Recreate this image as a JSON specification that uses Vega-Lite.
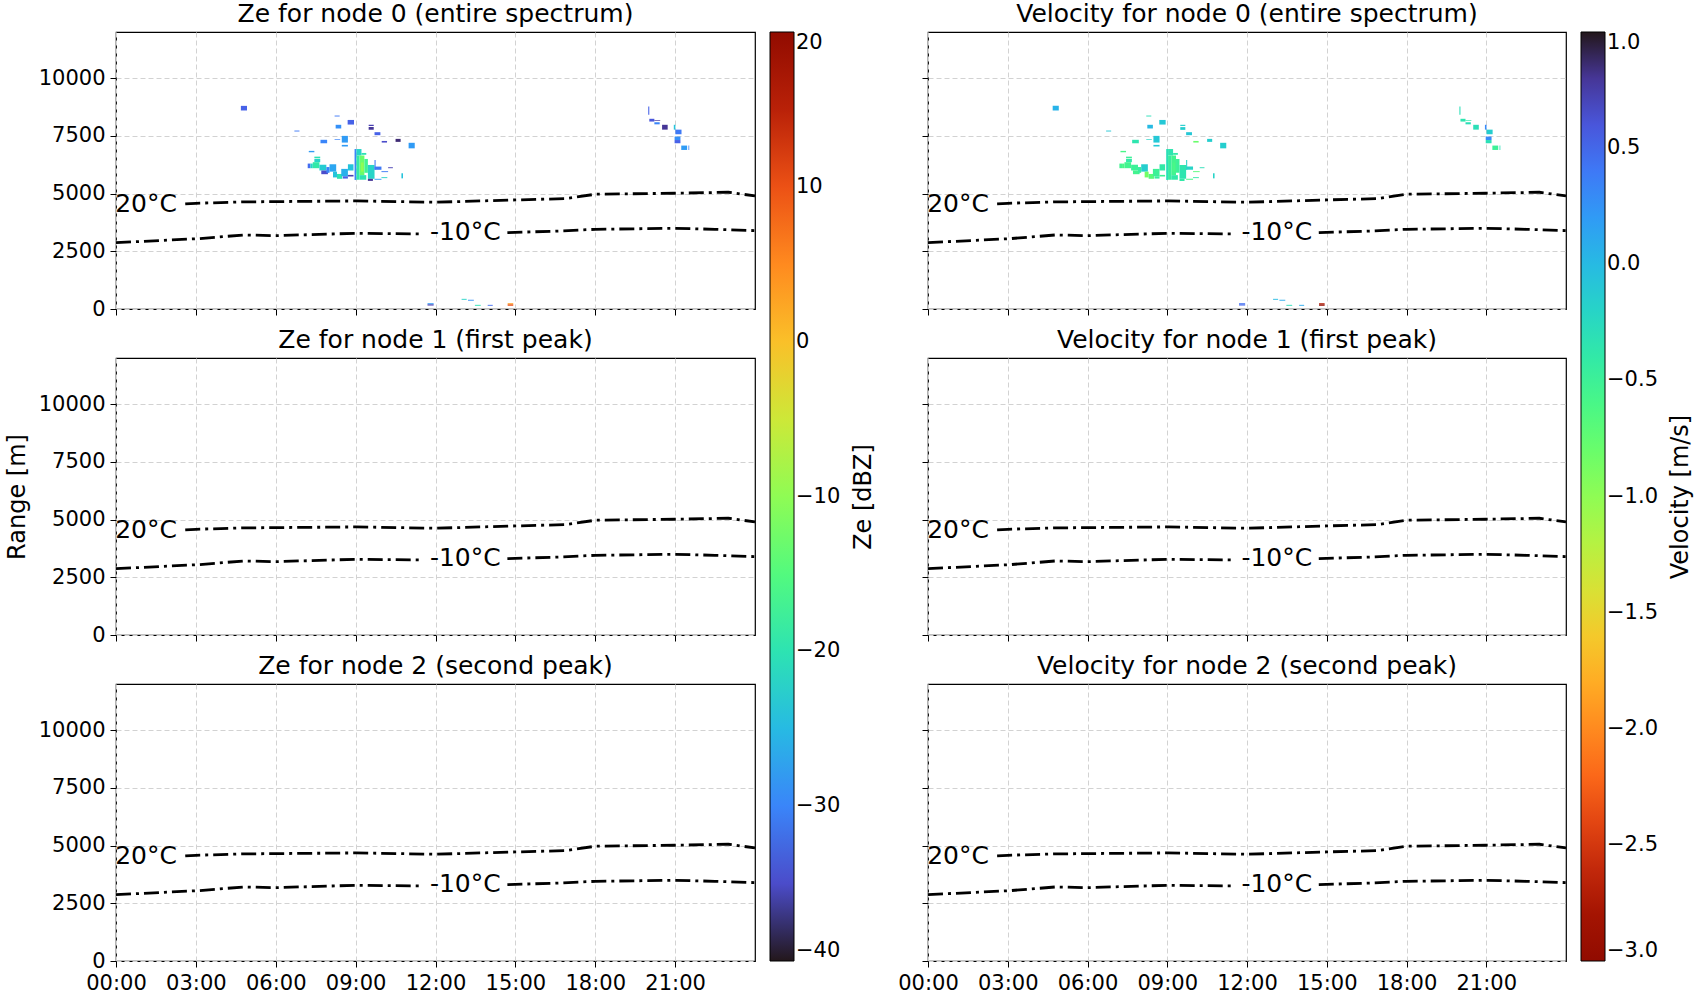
{
  "$schema": "https://vega.github.io/schema/vega-lite/v6.json",
  "background": "white",
  "padding": {"top": 1, "left": 4, "right": 0, "bottom": 4},
  "config": {
    "font": "DejaVu Sans",
    "view": {"stroke": "black", "strokeWidth": 1.2},
    "axis": {
      "labelFontSize": 21, "labelColor": "black", "tickColor": "black", "tickSize": 6, "labelPadding": 5,
      "labelOverlap": false, "labelFlush": false, "domain": false, "gridColor": "#d2d2d2", "gridDash": [5, 3], "gridWidth": 1,
      "titleFontSize": 24, "titleFontWeight": "normal", "titleColor": "black", "titlePadding": 9
    },
    "title": {"fontSize": 25, "fontWeight": "normal", "color": "black", "offset": 5},
    "legend": {
      "gradientLength": 929, "gradientThickness": 24, "offset": 8, "padding": 0,
      "labelFontSize": 21, "labelColor": "black", "labelOffset": 13, "labelOverlap": false,
      "gradientStrokeColor": "black", "gradientStrokeWidth": 1
    }
  },
  "datasets": {
    "cells": [
      {"t": 4.69, "t2": 4.92, "r": 8600, "r2": 8800, "ze": -33, "vel": 0.05},
      {"t": 6.70, "t2": 6.89, "r": 7690, "r2": 7730, "ze": -31, "vel": -0.1},
      {"t": 8.21, "t2": 8.40, "r": 8340, "r2": 8380, "ze": -31, "vel": -0.3},
      {"t": 8.70, "t2": 8.94, "r": 7990, "r2": 8190, "ze": -33, "vel": -0.1},
      {"t": 8.25, "t2": 8.46, "r": 7820, "r2": 7980, "ze": -29, "vel": 0.0},
      {"t": 9.49, "t2": 9.68, "r": 7930, "r2": 7980, "ze": -36, "vel": -0.15},
      {"t": 9.49, "t2": 9.68, "r": 7760, "r2": 7880, "ze": -37, "vel": -0.15},
      {"t": 9.71, "t2": 9.93, "r": 7530, "r2": 7660, "ze": -33, "vel": -0.1},
      {"t": 8.48, "t2": 8.71, "r": 7210, "r2": 7500, "ze": -28, "vel": -0.1},
      {"t": 8.21, "t2": 8.42, "r": 7330, "r2": 7360, "ze": -30, "vel": -0.2},
      {"t": 7.68, "t2": 7.93, "r": 7180, "r2": 7330, "ze": -30, "vel": -0.35},
      {"t": 9.98, "t2": 10.18, "r": 7210, "r2": 7280, "ze": -35, "vel": -0.8},
      {"t": 10.50, "t2": 10.69, "r": 7240, "r2": 7370, "ze": -38, "vel": -0.15},
      {"t": 10.99, "t2": 11.22, "r": 6960, "r2": 7200, "ze": -28, "vel": -0.15},
      {"t": 8.48, "t2": 8.71, "r": 7040, "r2": 7110, "ze": -28, "vel": -0.1},
      {"t": 7.24, "t2": 7.45, "r": 6790, "r2": 6850, "ze": -28, "vel": -0.6},
      {"t": 7.45, "t2": 7.67, "r": 6530, "r2": 6600, "ze": -20, "vel": -0.5},
      {"t": 7.45, "t2": 7.67, "r": 6360, "r2": 6500, "ze": -22, "vel": -0.4},
      {"t": 7.20, "t2": 7.30, "r": 6100, "r2": 6300, "ze": -32, "vel": -0.55},
      {"t": 7.30, "t2": 7.39, "r": 6100, "r2": 6300, "ze": -22, "vel": -0.6},
      {"t": 7.39, "t2": 7.64, "r": 6100, "r2": 6360, "ze": -19, "vel": -0.55},
      {"t": 7.64, "t2": 7.90, "r": 6000, "r2": 6250, "ze": -23, "vel": -0.5},
      {"t": 7.71, "t2": 7.96, "r": 5840, "r2": 6000, "ze": -35, "vel": -0.55},
      {"t": 7.90, "t2": 8.02, "r": 5900, "r2": 6150, "ze": -30, "vel": -0.45},
      {"t": 8.02, "t2": 8.27, "r": 5950, "r2": 6270, "ze": -27, "vel": -0.15},
      {"t": 8.15, "t2": 8.30, "r": 5700, "r2": 5950, "ze": -24, "vel": -0.85},
      {"t": 8.30, "t2": 8.50, "r": 5640, "r2": 5850, "ze": -20, "vel": -0.7},
      {"t": 8.46, "t2": 8.71, "r": 5750, "r2": 6070, "ze": -26, "vel": -0.5},
      {"t": 8.52, "t2": 8.71, "r": 5650, "r2": 5750, "ze": -33, "vel": -0.45},
      {"t": 8.71, "t2": 8.92, "r": 6000, "r2": 6270, "ze": -24, "vel": -0.4},
      {"t": 8.71, "t2": 8.92, "r": 5740, "r2": 5810, "ze": -36, "vel": -0.5},
      {"t": 8.96, "t2": 9.03, "r": 5590, "r2": 6930, "ze": -30, "vel": -0.3},
      {"t": 9.03, "t2": 9.22, "r": 6650, "r2": 6930, "ze": -22, "vel": -0.35},
      {"t": 9.22, "t2": 9.40, "r": 6680, "r2": 6760, "ze": -20, "vel": -0.4},
      {"t": 9.03, "t2": 9.15, "r": 5600, "r2": 6650, "ze": -19, "vel": -0.45},
      {"t": 9.15, "t2": 9.33, "r": 5800, "r2": 6650, "ze": -13, "vel": -0.55},
      {"t": 9.20, "t2": 9.30, "r": 5950, "r2": 6350, "ze": -10, "vel": -0.6},
      {"t": 9.33, "t2": 9.46, "r": 5900, "r2": 6500, "ze": -17, "vel": -0.5},
      {"t": 9.15, "t2": 9.40, "r": 5600, "r2": 5800, "ze": -20, "vel": -0.4},
      {"t": 9.46, "t2": 9.71, "r": 5640, "r2": 6240, "ze": -22, "vel": -0.35},
      {"t": 9.46, "t2": 9.65, "r": 5550, "r2": 5640, "ze": -37, "vel": -0.4},
      {"t": 9.71, "t2": 9.75, "r": 6030, "r2": 6460, "ze": -31, "vel": -0.2},
      {"t": 9.71, "t2": 9.97, "r": 6030, "r2": 6170, "ze": -31, "vel": -0.2},
      {"t": 9.97, "t2": 10.22, "r": 5930, "r2": 5970, "ze": -31, "vel": -0.7},
      {"t": 10.22, "t2": 10.40, "r": 6100, "r2": 6140, "ze": -36, "vel": -0.3},
      {"t": 9.71, "t2": 9.97, "r": 5600, "r2": 5640, "ze": -28, "vel": -0.6},
      {"t": 9.97, "t2": 10.19, "r": 5670, "r2": 5710, "ze": -22, "vel": -0.4},
      {"t": 10.72, "t2": 10.78, "r": 5660, "r2": 5880, "ze": -24, "vel": -0.2},
      {"t": 11.70, "t2": 11.93, "r": 200, "r2": 250, "ze": -28, "vel": 0.45},
      {"t": 11.70, "t2": 11.93, "r": 150, "r2": 200, "ze": -36, "vel": 0.5},
      {"t": 12.98, "t2": 13.17, "r": 400, "r2": 440, "ze": -22, "vel": 0.0},
      {"t": 13.22, "t2": 13.44, "r": 360, "r2": 400, "ze": -29, "vel": 0.1},
      {"t": 13.48, "t2": 13.70, "r": 140, "r2": 180, "ze": -20, "vel": -0.3},
      {"t": 13.96, "t2": 14.15, "r": 140, "r2": 180, "ze": -32, "vel": 0.1},
      {"t": 14.71, "t2": 14.92, "r": 200, "r2": 250, "ze": 3, "vel": -2.7},
      {"t": 14.71, "t2": 14.92, "r": 140, "r2": 200, "ze": 10, "vel": -2.9},
      {"t": 19.99, "t2": 20.03, "r": 8410, "r2": 8770, "ze": -33, "vel": -0.3},
      {"t": 20.03, "t2": 20.22, "r": 8120, "r2": 8240, "ze": -34, "vel": -0.35},
      {"t": 20.22, "t2": 20.44, "r": 8150, "r2": 8180, "ze": -37, "vel": -0.4},
      {"t": 20.22, "t2": 20.42, "r": 8000, "r2": 8090, "ze": -30, "vel": -0.3},
      {"t": 20.51, "t2": 20.72, "r": 7770, "r2": 7980, "ze": -37, "vel": -0.3},
      {"t": 20.95, "t2": 21.01, "r": 7770, "r2": 7980, "ze": -24, "vel": 0.3},
      {"t": 21.01, "t2": 21.24, "r": 7570, "r2": 7770, "ze": -31, "vel": -0.15},
      {"t": 20.98, "t2": 21.20, "r": 7320, "r2": 7470, "ze": -29, "vel": 0.3},
      {"t": 20.98, "t2": 21.20, "r": 7180, "r2": 7320, "ze": -33, "vel": -0.3},
      {"t": 21.23, "t2": 21.45, "r": 6890, "r2": 7080, "ze": -28, "vel": -0.5},
      {"t": 21.50, "t2": 21.53, "r": 6890, "r2": 7080, "ze": -30, "vel": -0.3}
    ],
    "iso": [
      {"t": 2.6, "r": 4552, "seg": "a"}, {"t": 3.0, "r": 4580, "seg": "a"}, {"t": 4.8, "r": 4640, "seg": "a"},
      {"t": 6.0, "r": 4652, "seg": "a"}, {"t": 9.0, "r": 4682, "seg": "a"}, {"t": 12.0, "r": 4625, "seg": "a"},
      {"t": 15.0, "r": 4725, "seg": "a"}, {"t": 16.9, "r": 4782, "seg": "a"}, {"t": 18.0, "r": 4972, "seg": "a"},
      {"t": 21.0, "r": 5015, "seg": "a"}, {"t": 23.0, "r": 5058, "seg": "a"}, {"t": 24.0, "r": 4898, "seg": "a"},
      {"t": 0.0, "r": 2875, "seg": "b"}, {"t": 3.1, "r": 3048, "seg": "b"}, {"t": 4.8, "r": 3208, "seg": "b"},
      {"t": 6.0, "r": 3178, "seg": "b"}, {"t": 9.0, "r": 3280, "seg": "b"}, {"t": 11.5, "r": 3251, "seg": "b"},
      {"t": 14.7, "r": 3308, "seg": "c"}, {"t": 16.7, "r": 3381, "seg": "c"}, {"t": 18.0, "r": 3453, "seg": "c"},
      {"t": 21.0, "r": 3497, "seg": "c"}, {"t": 22.5, "r": 3453, "seg": "c"}, {"t": 24.0, "r": 3395, "seg": "c"}
    ],
    "isolab": [
      {"t": 1.13, "r": 4560, "label": "20°C"},
      {"t": 13.12, "r": 3320, "label": "-10°C"}
    ]
  },
  "hconcat": [
    {
      "spacing": 49,
      "bounds": "flush",
      "vconcat": [
        {
          "title": "Ze for node 0 (entire spectrum)",
          "width": 639, "height": 277,
          "encoding": {
            "x": {"field": "t", "type": "quantitative", "scale": {"domain": [0, 24], "nice": false},
                  "axis": {"values": [0, 3, 6, 9, 12, 15, 18, 21], "labels": false, "title": null}},
            "y": {"field": "r", "type": "quantitative", "scale": {"domain": [0, 12000], "nice": false},
                  "axis": {"values": [0, 2500, 5000, 7500, 10000], "format": "d", "title": null}}
          },
          "layer": [
            {
              "data": {"name": "cells"},
              "mark": {"type": "rect"},
              "encoding": {
                "x2": {"field": "t2"},
                "y2": {"field": "r2"},
                "color": {"field": "ze", "type": "quantitative",
                          "scale": {"scheme": "turbo", "domain": [-40, 20]},
                          "legend": {"title": null, "values": [-40, -30, -20, -10, 0, 10, 20], "format": "d"}}
              }
            },
            {
              "data": {"name": "iso"},
              "mark": {"type": "line", "color": "black", "strokeWidth": 2.8, "strokeDash": [15, 5, 3, 5]},
              "encoding": {"detail": {"field": "seg"}}
            },
            {
              "data": {"name": "isolab"},
              "mark": {"type": "text", "fontSize": 25, "color": "black", "align": "center", "baseline": "middle"},
              "encoding": {"text": {"field": "label"}}
            }
          ]
        },
        {
          "title": "Ze for node 1 (first peak)",
          "width": 639, "height": 277,
          "encoding": {
            "x": {"field": "t", "type": "quantitative", "scale": {"domain": [0, 24], "nice": false},
                  "axis": {"values": [0, 3, 6, 9, 12, 15, 18, 21], "labels": false, "title": null}},
            "y": {"field": "r", "type": "quantitative", "scale": {"domain": [0, 12000], "nice": false},
                  "axis": {"values": [0, 2500, 5000, 7500, 10000], "format": "d", "title": "Range [m]"}}
          },
          "layer": [
            {
              "data": {"name": "iso"},
              "mark": {"type": "line", "color": "black", "strokeWidth": 2.8, "strokeDash": [15, 5, 3, 5]},
              "encoding": {"detail": {"field": "seg"}}
            },
            {
              "data": {"name": "isolab"},
              "mark": {"type": "text", "fontSize": 25, "color": "black", "align": "center", "baseline": "middle"},
              "encoding": {"text": {"field": "label"}}
            }
          ]
        },
        {
          "title": "Ze for node 2 (second peak)",
          "width": 639, "height": 277,
          "encoding": {
            "x": {"field": "t", "type": "quantitative", "scale": {"domain": [0, 24], "nice": false},
                  "axis": {"values": [0, 3, 6, 9, 12, 15, 18, 21], "labelExpr": "format(datum.value, '02d') + ':00'", "title": null}},
            "y": {"field": "r", "type": "quantitative", "scale": {"domain": [0, 12000], "nice": false},
                  "axis": {"values": [0, 2500, 5000, 7500, 10000], "format": "d", "title": null}}
          },
          "layer": [
            {
              "data": {"name": "iso"},
              "mark": {"type": "line", "color": "black", "strokeWidth": 2.8, "strokeDash": [15, 5, 3, 5]},
              "encoding": {"detail": {"field": "seg"}}
            },
            {
              "data": {"name": "isolab"},
              "mark": {"type": "text", "fontSize": 25, "color": "black", "align": "center", "baseline": "middle"},
              "encoding": {"text": {"field": "label"}}
            }
          ]
        }
      ]
    },
    {
      "width": 1, "height": 929,
      "view": {"stroke": null},
      "data": {"name": "cells"},
      "mark": {"type": "point", "opacity": 0},
      "encoding": {
        "y": {"field": "ze", "type": "quantitative",
              "axis": {"title": "Ze [dBZ]", "labels": false, "ticks": false, "grid": false, "domain": false, "titlePadding": 8}}
      }
    },
    {
      "spacing": 49,
      "bounds": "flush",
      "vconcat": [
        {
          "title": "Velocity for node 0 (entire spectrum)",
          "width": 638, "height": 277,
          "encoding": {
            "x": {"field": "t", "type": "quantitative", "scale": {"domain": [0, 24], "nice": false},
                  "axis": {"values": [0, 3, 6, 9, 12, 15, 18, 21], "labels": false, "title": null}},
            "y": {"field": "r", "type": "quantitative", "scale": {"domain": [0, 12000], "nice": false},
                  "axis": {"values": [0, 2500, 5000, 7500, 10000], "labels": false, "title": null}}
          },
          "layer": [
            {
              "data": {"name": "cells"},
              "mark": {"type": "rect"},
              "encoding": {
                "x2": {"field": "t2"},
                "y2": {"field": "r2"},
                "color": {"field": "vel", "type": "quantitative",
                          "scale": {"scheme": "turbo", "domain": [-3, 1], "reverse": true},
                          "legend": {"title": null, "values": [-3, -2.5, -2, -1.5, -1, -0.5, 0, 0.5, 1], "format": ".1f"}}
              }
            },
            {
              "data": {"name": "iso"},
              "mark": {"type": "line", "color": "black", "strokeWidth": 2.8, "strokeDash": [15, 5, 3, 5]},
              "encoding": {"detail": {"field": "seg"}}
            },
            {
              "data": {"name": "isolab"},
              "mark": {"type": "text", "fontSize": 25, "color": "black", "align": "center", "baseline": "middle"},
              "encoding": {"text": {"field": "label"}}
            }
          ]
        },
        {
          "title": "Velocity for node 1 (first peak)",
          "width": 638, "height": 277,
          "encoding": {
            "x": {"field": "t", "type": "quantitative", "scale": {"domain": [0, 24], "nice": false},
                  "axis": {"values": [0, 3, 6, 9, 12, 15, 18, 21], "labels": false, "title": null}},
            "y": {"field": "r", "type": "quantitative", "scale": {"domain": [0, 12000], "nice": false},
                  "axis": {"values": [0, 2500, 5000, 7500, 10000], "labels": false, "title": null}}
          },
          "layer": [
            {
              "data": {"name": "iso"},
              "mark": {"type": "line", "color": "black", "strokeWidth": 2.8, "strokeDash": [15, 5, 3, 5]},
              "encoding": {"detail": {"field": "seg"}}
            },
            {
              "data": {"name": "isolab"},
              "mark": {"type": "text", "fontSize": 25, "color": "black", "align": "center", "baseline": "middle"},
              "encoding": {"text": {"field": "label"}}
            }
          ]
        },
        {
          "title": "Velocity for node 2 (second peak)",
          "width": 638, "height": 277,
          "encoding": {
            "x": {"field": "t", "type": "quantitative", "scale": {"domain": [0, 24], "nice": false},
                  "axis": {"values": [0, 3, 6, 9, 12, 15, 18, 21], "labelExpr": "format(datum.value, '02d') + ':00'", "title": null}},
            "y": {"field": "r", "type": "quantitative", "scale": {"domain": [0, 12000], "nice": false},
                  "axis": {"values": [0, 2500, 5000, 7500, 10000], "labels": false, "title": null}}
          },
          "layer": [
            {
              "data": {"name": "iso"},
              "mark": {"type": "line", "color": "black", "strokeWidth": 2.8, "strokeDash": [15, 5, 3, 5]},
              "encoding": {"detail": {"field": "seg"}}
            },
            {
              "data": {"name": "isolab"},
              "mark": {"type": "text", "fontSize": 25, "color": "black", "align": "center", "baseline": "middle"},
              "encoding": {"text": {"field": "label"}}
            }
          ]
        }
      ]
    },
    {
      "width": 1, "height": 929,
      "view": {"stroke": null},
      "data": {"name": "cells"},
      "mark": {"type": "point", "opacity": 0},
      "encoding": {
        "y": {"field": "vel", "type": "quantitative",
              "axis": {"title": "Velocity [m/s]", "labels": false, "ticks": false, "grid": false, "domain": false, "titlePadding": 0}}
      }
    }
  ],
  "spacing": 10,
  "resolve": {"scale": {"color": "independent"}}
}
